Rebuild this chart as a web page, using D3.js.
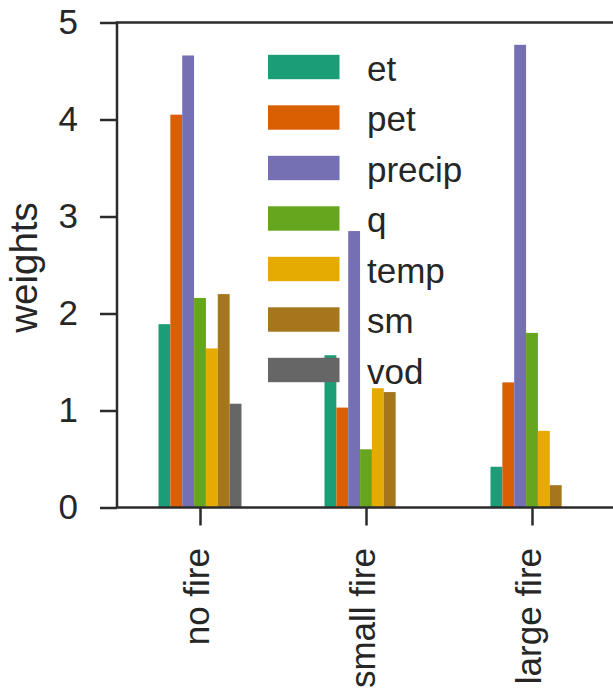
<!DOCTYPE html>
<html>
<head>
<meta charset="utf-8">
<script src="https://cdn.jsdelivr.net/npm/d3@7"></script>
<style>
  html, body { margin: 0; padding: 0; background: #fff; }
  svg { display: block; }
  text { font-family: "Liberation Sans", Arial, sans-serif; fill: #262626; }
</style>
</head>
<body>
<svg id="chart" width="613" height="690"></svg>
<script>
const categories = ["no fire", "small fire", "large fire"];
const seriesNames = ["et", "pet", "precip", "q", "temp", "sm", "vod"];
const seriesColors = ["#1b9e77", "#d95f02", "#7570b3", "#66a61e", "#e6ab02", "#a6761d", "#666666"];
const etValues     = [1.89, 1.57, 0.42];
const petValues    = [4.05, 1.03, 1.29];
const precipValues = [4.66, 2.85, 4.77];
const qValues      = [2.16, 0.60, 1.80];
const tempValues   = [1.64, 1.23, 0.79];
const smValues     = [2.20, 1.19, 0.23];
const vodValues    = [1.07, 0.00, 0.00];
const yTicks = [0, 1, 2, 3, 4, 5];
const yLabel = "weights";

const seriesValues = [etValues, petValues, precipValues, qValues, tempValues, smValues, vodValues];

const svg = d3.select("#chart");
const mLeft = 117, mRight = 615, mTop = 22.5, mBottom = 507.5;
const fs = 35;
const labelFs = 38.5;
const ink = "#2b2b2b";

const x = d3.scaleLinear().domain([-0.5, 2.5]).range([mLeft, mRight]);
const y = d3.scaleLinear().domain([0, 5]).range([mBottom, mTop]);
const totalW = 0.5;
const barW = totalW / seriesNames.length;

// bars
seriesValues.forEach((vals, si) => {
  svg.append("g").selectAll("rect").data(vals).join("rect")
    .attr("x", (d, i) => x(i - totalW / 2 + si * barW))
    .attr("width", x(barW) - x(0))
    .attr("y", d => y(d))
    .attr("height", d => y(0) - y(d))
    .attr("fill", seriesColors[si]);
});

// frame (spines)
svg.append("rect")
  .attr("x", mLeft).attr("y", mTop)
  .attr("width", mRight - mLeft).attr("height", mBottom - mTop)
  .attr("fill", "none").attr("stroke", ink).attr("stroke-width", 2.5);

// y axis
const yAxis = d3.axisLeft(y).tickValues(yTicks).tickSize(17).tickPadding(22).tickFormat(d3.format("d"));
const gy = svg.append("g").attr("transform", `translate(${mLeft},0)`).call(yAxis);
gy.select(".domain").remove();
gy.selectAll(".tick line").attr("stroke", ink).attr("stroke-width", 2.5);
gy.selectAll(".tick text").attr("font-size", fs).attr("fill", "#262626")
  .style("font-family", '"Liberation Sans", Arial, sans-serif');

// x axis
const xAxis = d3.axisBottom(x).tickValues([0, 1, 2]).tickSize(18).tickFormat(i => categories[i]);
const gx = svg.append("g").attr("transform", `translate(0,${mBottom})`).call(xAxis);
gx.select(".domain").remove();
gx.selectAll(".tick line").attr("stroke", ink).attr("stroke-width", 2.5);
gx.selectAll(".tick text")
  .attr("font-size", fs).attr("fill", "#262626")
  .style("font-family", '"Liberation Sans", Arial, sans-serif')
  .attr("text-anchor", "end")
  .attr("dy", null)
  .attr("y", 0)
  .attr("transform", "translate(8,40.5) rotate(-90)");

// y label
svg.append("text")
  .attr("transform", `translate(37,267.5) rotate(-90)`)
  .attr("text-anchor", "middle")
  .attr("font-size", labelFs)
  .text(yLabel);

// legend
const lg = svg.append("g");
seriesNames.forEach((name, i) => {
  const cy = 67 + i * 50.5;
  lg.append("rect")
    .attr("x", 268).attr("y", cy - 12.2)
    .attr("width", 71.5).attr("height", 24.4)
    .attr("fill", seriesColors[i]);
  lg.append("text")
    .attr("x", 367).attr("y", cy + 13.5)
    .attr("font-size", fs)
    .text(name);
});
</script>
</body>
</html>
